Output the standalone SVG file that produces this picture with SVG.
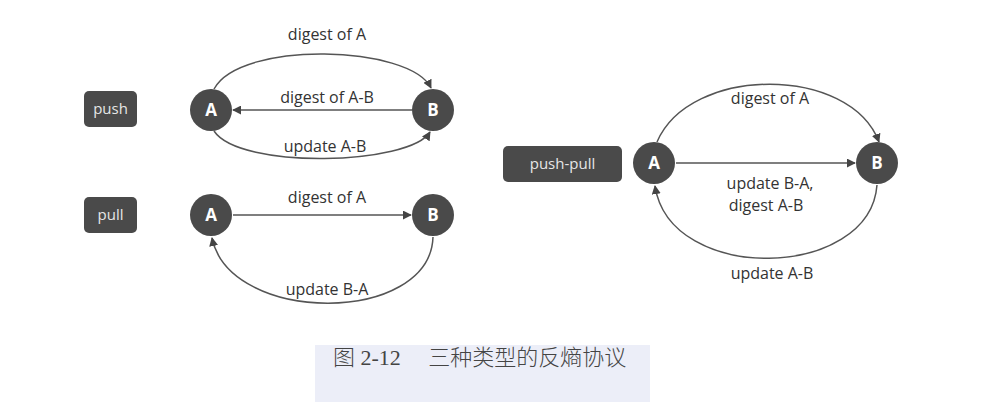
<svg xmlns="http://www.w3.org/2000/svg" width="1000" height="402" viewBox="0 0 1000 402">
<style>
.box{fill:#4a4a4a}
.btxt{fill:#e6e6e6;font-family:"Open Sans",sans-serif;font-size:15px;text-anchor:middle}
.node{fill:#4a4a4a}
.ntxt{fill:#fff;font-family:"Open Sans",sans-serif;font-size:17px;font-weight:bold;text-anchor:middle}
.lbl{fill:#333;font-family:"Open Sans",sans-serif;font-size:16px;text-anchor:middle}
.e{fill:none;stroke:#555;stroke-width:1.5;marker-end:url(#ar)}
</style>
<defs><marker id="ar" viewBox="0 0 10 10" refX="9" refY="5" markerWidth="9" markerHeight="9" markerUnits="userSpaceOnUse" orient="auto"><path d="M0,0L10,5L0,10z" fill="#444"/></marker></defs>
<rect width="1000" height="402" fill="#fff"/>
<rect x="315" y="345" width="335" height="57" fill="#eceef8"/>
<g id="connectors">
<path class="e" d="M214,89 C240,40 410,45 431,88"/>
<path class="e" d="M412,110 L233,110"/>
<path class="e" d="M214,131 C240,170 410,165 430,132"/>
<path class="e" d="M233,215 L411,215"/>
<path class="e" d="M433,237 C430,325 230,325 212,238"/>
<path class="e" d="M657,142 C690,65 850,65 879,142"/>
<path class="e" d="M676,163 L855,163"/>
<path class="e" d="M877,185 C870,280 670,285 655,186"/>
</g>
<g id="push"><rect class="box" x="84" y="91" width="53" height="36" rx="5"/><text class="btxt" x="110.5" y="114">push</text></g>
<g id="pull"><rect class="box" x="84" y="197" width="53" height="36" rx="5"/><text class="btxt" x="110.5" y="220">pull</text></g>
<g id="pushpull"><rect class="box" x="503" y="146" width="119" height="36" rx="5"/><text class="btxt" x="562.5" y="169">push-pull</text></g>
<g id="pushA"><circle class="node" cx="211" cy="110" r="21"/><text class="ntxt" x="211" y="116">A</text></g>
<g id="pushB"><circle class="node" cx="433" cy="110" r="21"/><text class="ntxt" x="433" y="116">B</text></g>
<g id="pullA"><circle class="node" cx="211" cy="215" r="21"/><text class="ntxt" x="211" y="221">A</text></g>
<g id="pullB"><circle class="node" cx="433" cy="215" r="21"/><text class="ntxt" x="433" y="221">B</text></g>
<g id="ppA"><circle class="node" cx="654" cy="163" r="21"/><text class="ntxt" x="654" y="169">A</text></g>
<g id="ppB"><circle class="node" cx="877" cy="163" r="21"/><text class="ntxt" x="877" y="169">B</text></g>
<g id="labels">
<text class="lbl" x="327" y="40">digest of A</text>
<text class="lbl" x="327" y="103">digest of A-B</text>
<text class="lbl" x="325" y="152">update A-B</text>
<text class="lbl" x="327" y="203">digest of A</text>
<text class="lbl" x="327" y="295">update B-A</text>
<text class="lbl" x="770" y="104">digest of A</text>
<text class="lbl" x="770" y="189">update B-A,</text>
<text class="lbl" x="766" y="211">digest A-B</text>
<text class="lbl" x="772" y="279">update A-B</text>
<text x="333" y="365" fill="#444" font-family="'Liberation Serif','Noto Sans CJK SC',serif" font-size="22" font-weight="300">图 2-12　 三种类型的反熵协议</text>
</g>
</svg>
